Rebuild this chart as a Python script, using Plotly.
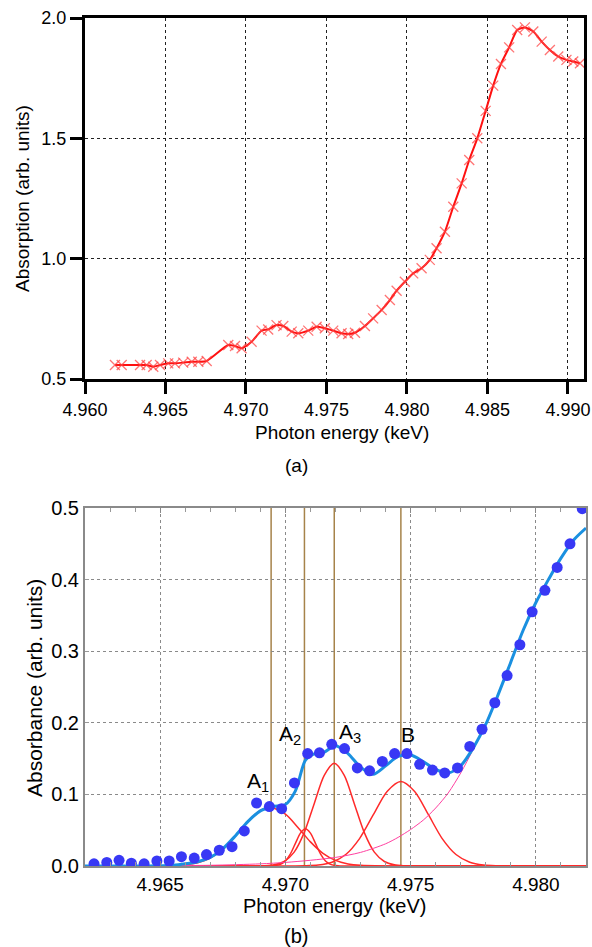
import plotly.graph_objects as go

# ---------------- (a) XANES spectrum ----------------
top_energy = [4.96186, 4.96228, 4.96342, 4.96383, 4.96424, 4.96466, 4.96517, 4.96559, 4.96610,
              4.96663, 4.96704, 4.96756, 4.96890, 4.96932, 4.96973, 4.97035, 4.97097, 4.97138,
              4.97190, 4.97232, 4.97284, 4.97325, 4.97387, 4.97439, 4.97490, 4.97542, 4.97594,
              4.97635, 4.97677, 4.97739, 4.97790, 4.97843, 4.97894, 4.97936, 4.97987, 4.98039,
              4.98091, 4.98142, 4.98184, 4.98236, 4.98288, 4.98340, 4.98387, 4.98437, 4.98489,
              4.98536, 4.98584, 4.98635, 4.98685, 4.98733, 4.98785, 4.98837, 4.98888, 4.98940,
              4.98991, 4.99033, 4.99075]
top_absorption = [0.558, 0.558, 0.558, 0.558, 0.551, 0.558, 0.565, 0.565, 0.568,
                  0.572, 0.572, 0.575, 0.641, 0.637, 0.628, 0.655, 0.701, 0.706,
                  0.724, 0.720, 0.697, 0.690, 0.701, 0.717, 0.711, 0.701, 0.690,
                  0.687, 0.692, 0.720, 0.752, 0.787, 0.828, 0.867, 0.904, 0.939,
                  0.960, 0.995, 1.043, 1.112, 1.216, 1.313, 1.410, 1.500, 1.614,
                  1.719, 1.809, 1.878, 1.950, 1.961, 1.944, 1.902, 1.867, 1.840,
                  1.826, 1.819, 1.812]
top_xticks = [4.960, 4.965, 4.970, 4.975, 4.980, 4.985, 4.990]
top_yticks = [0.5, 1.0, 1.5, 2.0]

# ---------------- (b) pre-edge fit ----------------
b_energy = [4.96236, 4.96287, 4.96336, 4.96385, 4.96436, 4.96487, 4.96536, 4.96585, 4.96636,
            4.96685, 4.96736, 4.96787, 4.96836, 4.96885, 4.96936, 4.96985, 4.97036, 4.97089,
            4.97136, 4.97185, 4.97236, 4.97287, 4.97336, 4.97387, 4.97436, 4.97485, 4.97536,
            4.97587, 4.97636, 4.97687, 4.97736, 4.97785, 4.97836, 4.97885, 4.97936, 4.97985,
            4.98036, 4.98085, 4.98136, 4.98185]
b_absorbance = [0.003, 0.005, 0.008, 0.004, 0.003, 0.007, 0.007, 0.013, 0.011,
                0.016, 0.022, 0.027, 0.049, 0.088, 0.083, 0.080, 0.116, 0.157,
                0.158, 0.170, 0.164, 0.137, 0.133, 0.146, 0.157, 0.157, 0.142,
                0.134, 0.130, 0.137, 0.167, 0.191, 0.228, 0.266, 0.309, 0.355,
                0.385, 0.417, 0.450, 0.499]

fit_energy = [4.962, 4.9645, 4.9655, 4.966, 4.9665, 4.967, 4.9675, 4.968, 4.9685, 4.969,
              4.9695, 4.970, 4.9704, 4.9708, 4.9711, 4.9715, 4.972, 4.9725, 4.973, 4.9735,
              4.974, 4.9745, 4.975, 4.9755, 4.976, 4.9765, 4.977, 4.9775, 4.978, 4.9785,
              4.979, 4.9795, 4.980, 4.9805, 4.981, 4.9815, 4.982]
fit_total = [0.000, 0.000, 0.001, 0.003, 0.006, 0.012, 0.024, 0.042, 0.062, 0.077,
             0.083, 0.086, 0.105, 0.148, 0.156, 0.158, 0.168, 0.157, 0.138, 0.128,
             0.140, 0.153, 0.155, 0.146, 0.135, 0.130, 0.140, 0.165, 0.198, 0.240,
             0.285, 0.330, 0.368, 0.400, 0.430, 0.455, 0.472]

a1_energy = [4.962, 4.964, 4.965, 4.9655, 4.966, 4.9665, 4.967, 4.9675, 4.968, 4.9685, 4.969,
             4.9694, 4.970, 4.9705, 4.971, 4.9715, 4.972, 4.9725, 4.973, 4.974, 4.976, 4.982]
a1_peak = [0, 0, 0.0001, 0.0004, 0.0015, 0.0044, 0.0111, 0.0234, 0.0415, 0.0619, 0.0776,
           0.082, 0.0724, 0.0539, 0.0337, 0.0177, 0.0078, 0.0029, 0.0009, 0.0001, 0, 0]

a2_energy = [4.962, 4.968, 4.9692, 4.9695, 4.9698, 4.9700, 4.9702, 4.9704, 4.9706, 4.9708,
             4.9710, 4.9712, 4.9714, 4.9716, 4.9718, 4.9721, 4.9724, 4.976, 4.982]
a2_peak = [0, 0, 0, 0.0003, 0.0023, 0.0070, 0.0169, 0.0316, 0.0459, 0.052,
           0.0459, 0.0316, 0.0169, 0.0070, 0.0023, 0.0003, 0, 0, 0]

a3_energy = [4.962, 4.966, 4.96875, 4.96915, 4.96955, 4.96995, 4.97035, 4.97075, 4.97115,
             4.97155, 4.97195, 4.97235, 4.97275, 4.97315, 4.97355, 4.97395, 4.97435,
             4.97475, 4.97515, 4.978, 4.982]
a3_peak = [0, 0, 0, 0.0003, 0.0016, 0.0063, 0.0194, 0.0466, 0.0870,
           0.1266, 0.1435, 0.1266, 0.0870, 0.0466, 0.0194, 0.0063, 0.0016,
           0.0003, 0, 0, 0]

bpk_energy = [4.962, 4.968, 4.97021, 4.97076, 4.97131, 4.97186, 4.97241, 4.97296, 4.97351,
              4.97406, 4.97461, 4.97516, 4.97571, 4.97626, 4.97681, 4.97736, 4.97791,
              4.97846, 4.97901, 4.982]
bpk_peak = [0, 0, 0, 0.0003, 0.0013, 0.0052, 0.0160, 0.0383, 0.0716,
            0.1041, 0.118, 0.1041, 0.0716, 0.0383, 0.0160, 0.0052, 0.0013,
            0.0003, 0, 0]

edge_energy = [4.962, 4.965, 4.967, 4.969, 4.970, 4.971, 4.972, 4.973, 4.974, 4.9745, 4.975,
               4.9755, 4.976, 4.9765, 4.977, 4.9775, 4.978, 4.9785, 4.979, 4.9795, 4.980,
               4.9805, 4.981, 4.9815, 4.982]
edge_step = [0.000, 0.0005, 0.001, 0.003, 0.005, 0.008, 0.012, 0.019, 0.031, 0.040, 0.051,
             0.064, 0.081, 0.102, 0.130, 0.163, 0.198, 0.240, 0.285, 0.330, 0.368,
             0.400, 0.430, 0.455, 0.472]

peak_centers = [4.96943, 4.97076, 4.97195, 4.97461]
peak_labels = ["A<sub>1</sub>", "A<sub>2</sub>", "A<sub>3</sub>", "B"]
bot_xticks = [4.965, 4.970, 4.975, 4.980]
bot_yticks = [0.0, 0.1, 0.2, 0.3, 0.4, 0.5]

# ---------------- figure ----------------
W, H = 592, 947
FONT = "Liberation Sans, Arial, Helvetica, sans-serif"

fig = go.Figure()

# top panel
fig.add_trace(go.Scatter(
    x=top_energy, y=top_absorption, mode="lines+markers", xaxis="x", yaxis="y",
    line=dict(color="#ff1010", width=2, shape="spline", smoothing=0.6),
    marker=dict(symbol="x-thin", size=10, line=dict(color="rgba(255,70,70,0.75)", width=1.3)),
    showlegend=False, cliponaxis=False))

# bottom panel components
for ex, ey in [(a1_energy, a1_peak), (a2_energy, a2_peak), (a3_energy, a3_peak), (bpk_energy, bpk_peak)]:
    fig.add_trace(go.Scatter(
        x=ex, y=ey, mode="lines", xaxis="x2", yaxis="y2",
        line=dict(color="#ff2a2a", width=1.5, shape="spline", smoothing=0.8),
        showlegend=False))
fig.add_trace(go.Scatter(
    x=edge_energy, y=edge_step, mode="lines", xaxis="x2", yaxis="y2",
    line=dict(color="#ff3fa0", width=1, shape="spline", smoothing=0.8), showlegend=False))
fig.add_trace(go.Scatter(
    x=fit_energy, y=fit_total, mode="lines", xaxis="x2", yaxis="y2",
    line=dict(color="#1a90e0", width=3, shape="spline", smoothing=0.8), showlegend=False))
fig.add_trace(go.Scatter(
    x=b_energy, y=b_absorbance, mode="markers", xaxis="x2", yaxis="y2",
    marker=dict(color="#3838f5", size=11, line=dict(width=0)), showlegend=False))

top_dom_x = [85 / W, 584 / W]
top_dom_y = [(H - 379) / H, (H - 18) / H]
bot_dom_x = [85 / W, 586 / W]
bot_dom_y = [(H - 866) / H, (H - 508) / H]

top_tickfont = dict(family=FONT, size=18, color="black")
bot_tickfont = dict(family=FONT, size=19, color="black")

fig.update_layout(
    template="none",
    width=W, height=H, margin=dict(l=0, r=0, t=0, b=0, pad=0), autosize=False,
    paper_bgcolor="white", plot_bgcolor="white",
    font=dict(family=FONT, color="black"),
    xaxis=dict(domain=top_dom_x, anchor="y", range=[4.960, 4.991], tickvals=top_xticks,
               tickformat=".3f", ticks="outside", ticklen=12, tickwidth=3, tickcolor="black",
               showline=True, linewidth=3, linecolor="black", mirror=True, automargin=False,
               showgrid=True, gridcolor="#222", griddash="dot", gridwidth=1,
               zeroline=False, tickfont=top_tickfont),
    yaxis=dict(domain=top_dom_y, anchor="x", range=[0.5, 2.0], tickvals=top_yticks,
               tickformat=".1f", ticks="outside", ticklen=12, tickwidth=3, tickcolor="black",
               showline=True, linewidth=3, linecolor="black", mirror=True, automargin=False,
               showgrid=True, gridcolor="#222", griddash="dot", gridwidth=1,
               zeroline=False, tickfont=top_tickfont),
    xaxis2=dict(domain=bot_dom_x, anchor="y2", range=[4.962, 4.982], tickvals=bot_xticks,
                tickformat=".3f", ticks="inside", ticklen=5, tickwidth=1, tickcolor="#888",
                minor=dict(dtick=0.001, tick0=4.960, ticks="inside", ticklen=4, tickcolor="#999",
                           showgrid=False),
                showline=True, linewidth=2, linecolor="#8a8a8a", mirror="ticks", automargin=False,
                showgrid=True, gridcolor="#8a8a8a", griddash="dot", gridwidth=1,
                zeroline=False, tickfont=bot_tickfont),
    yaxis2=dict(domain=bot_dom_y, anchor="x2", range=[0, 0.5], tickvals=bot_yticks,
                tickformat=".1f", ticks="inside", ticklen=4, tickwidth=1, tickcolor="#999",
                showline=True, linewidth=2, linecolor="#8a8a8a", mirror="ticks", automargin=False,
                showgrid=True, gridcolor="#8a8a8a", griddash="dot", gridwidth=1,
                zeroline=False, tickfont=dict(family=FONT, size=20, color="black")),
)

# vertical peak-position lines
for c in peak_centers:
    fig.add_shape(type="line", xref="x2", yref="y2 domain", x0=c, x1=c, y0=0, y1=1,
                  line=dict(color="#a6834a", width=1.5), layer="below")

# peak labels
label_pos = [(4.96892, 0.117), (4.97020, 0.183), (4.97256, 0.186), (4.97488, 0.183)]
for (lx, ly), txt in zip(label_pos, peak_labels):
    fig.add_annotation(x=lx, y=ly, xref="x2", yref="y2", text=txt, showarrow=False,
                       xanchor="center", yanchor="middle",
                       font=dict(family=FONT, size=21, color="black"))

# axis titles and panel letters
def paper_y(py):
    return (H - py) / H

def label(px, py, text, size, angle=0):
    fig.add_annotation(x=px / W, y=paper_y(py), xref="paper", yref="paper", text=text,
                       textangle=angle, showarrow=False, xanchor="center", yanchor="middle",
                       font=dict(family=FONT, size=size, color="black"))

label(23, 199, "Absorption (arb. units)", 19, -90)
label(342, 432, "Photon energy (keV)", 19)
label(296, 465, "(a)", 19)
label(34, 688, "Absorbance (arb. units)", 21, -90)
label(334, 906, "Photon energy (keV)", 20)
label(296, 936, "(b)", 20)

fig.write_html("out.html")
